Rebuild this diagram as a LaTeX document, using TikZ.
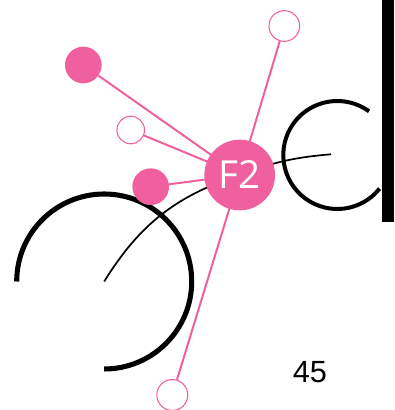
\documentclass[tikz,border=0pt]{standalone}
\usepackage{fontspec}
\setmainfont{Liberation Sans}
\newfontfamily\hubfont{Open Sans}
\usetikzlibrary{calc,backgrounds}
\definecolor{hubpink}{HTML}{F0609E}
\tikzset{
  hub/.style={circle, fill=hubpink, text=white, inner sep=0pt, minimum size=53pt, font=\hubfont\fontsize{29}{29}\selectfont},
  dotfull/.style={circle, fill=hubpink, inner sep=0pt, minimum size=#1},
  dotopen/.style={circle, draw=hubpink, fill=white, line width=0.8pt, inner sep=0pt, minimum size=#1},
  spoke/.style={hubpink, line width=1.5pt},
  stem/.style={black, line width=1.3pt},
}

\begin{document}
\begin{tikzpicture}[x=0.75pt, y=0.75pt]
  \useasboundingbox (0,0) rectangle (394,410);

  % ---------- arcs and bar ----------
  \coordinate (bigc) at (104.2,128.5);
  \coordinate (smallc) at (331,255.7);
  \draw[black, line width=3.8pt] (16.7,128.5) arc[start angle=180, end angle=-90, radius=87.5];
  \draw[black, line width=3pt] ($(337.3,255)+(54:54)$) arc[start angle=54, end angle=321.5, radius=54];
  \fill[black] (382.3,188) rectangle (394,410);

  % ---------- hub and dots ----------
  \node[hub] (f2) at (239.7,235) {F2};
  \node[dotfull=27.5pt] (fa) at (83.3,345) {};
  \node[dotopen=20.7pt] (ob) at (130.7,280) {};
  \node[dotfull=27.5pt] (fc) at (150.7,223.3) {};
  \node[dotopen=23pt] (otop) at (284.3,384) {};
  \node[dotopen=23.2pt] (obot) at (172.3,15) {};

  % ---------- connectors ----------
  \begin{scope}[on background layer]
    \draw[stem] (bigc) to[bend left=20] (f2.center);
    \draw[stem] (smallc) to[bend right=8] (f2.center);
    \draw[spoke] (f2.center) -- (fa);
    \draw[spoke] (f2.center) -- (ob);
    \draw[spoke] (f2.center) -- (fc);
    \draw[spoke] (f2.center) -- (otop);
    \draw[spoke] (f2.center) -- (obot);
  \end{scope}

  \node[font=\fontsize{23}{23}\selectfont] (num) at (310,38.3) {45};
\end{tikzpicture}
\end{document}
